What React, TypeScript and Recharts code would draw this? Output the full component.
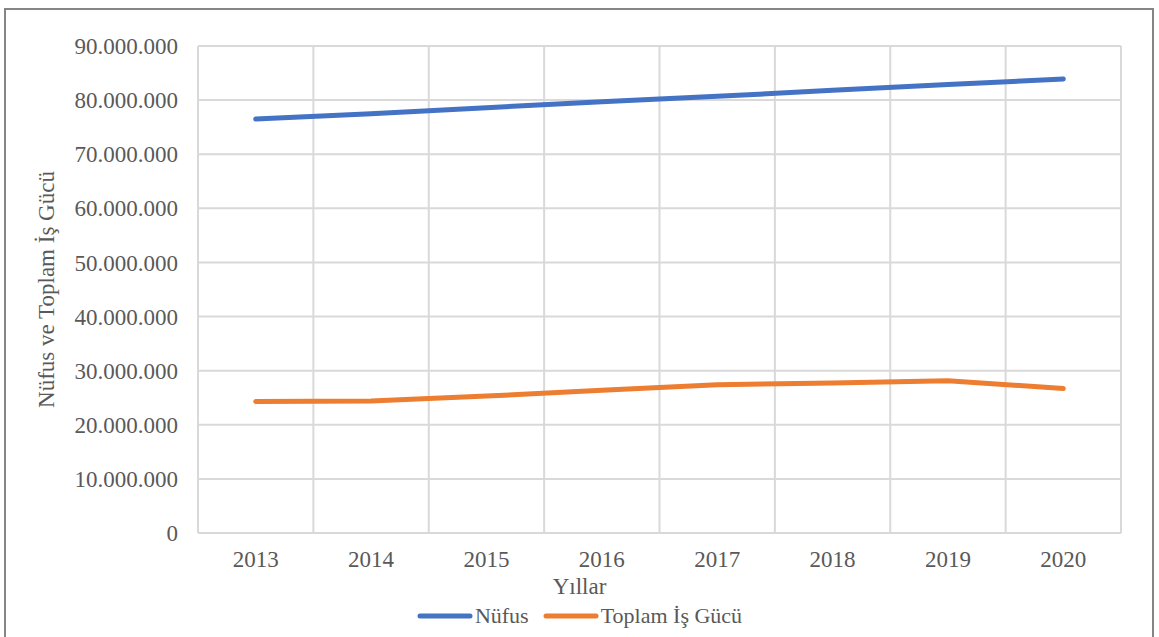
import { CartesianGrid, Label, Line, LineChart, XAxis, YAxis } from 'recharts'

const years = ['2013', '2014', '2015', '2016', '2017', '2018', '2019', '2020']
const nufus = [76500000, 77500000, 78600000, 79700000, 80700000, 81800000, 82900000, 83900000]
const isGucu = [24300000, 24400000, 25300000, 26400000, 27400000, 27700000, 28150000, 26700000]
const yTicks = [0, 10000000, 20000000, 30000000, 40000000, 50000000, 60000000, 70000000, 80000000, 90000000]

const data = years.map((year, i) => ({ year, nufus: nufus[i], isGucu: isGucu[i] }))

const FONT = '"Liberation Serif", "DejaVu Serif", serif'
const TEXT = '#595959'
const GRID = '#d9d9d9'
const BLUE = '#4472C4'
const ORANGE = '#ED7D31'

const fmt = (v: number) => String(v).replace(/\B(?=(\d{3})+(?!\d))/g, '.')

const legendItems = [
  { name: 'Nüfus', color: BLUE },
  { name: 'Toplam İş Gücü', color: ORANGE },
]

function BottomLegend() {
  return (
    <div
      style={{
        position: 'absolute',
        left: 0,
        top: 572,
        width: 1159,
        fontFamily: FONT,
        color: TEXT,
        textAlign: 'center',
      }}
    >
      <div style={{ fontSize: 23, lineHeight: '30px' }}>Yıllar</div>
      <div style={{ display: 'flex', justifyContent: 'center', gap: 14, fontSize: 22, lineHeight: '28px' }}>
        {legendItems.map((it) => (
          <div key={it.name} style={{ display: 'flex', alignItems: 'center' }}>
            <svg width={56} height={10}>
              <line x1={3} y1={5} x2={53} y2={5} stroke={it.color} strokeWidth={5} strokeLinecap="round" />
            </svg>
            <span style={{ marginLeft: 2 }}>{it.name}</span>
          </div>
        ))}
      </div>
    </div>
  )
}

export default function App() {
  return (
    <div style={{ position: 'absolute', left: 0, top: 0, width: 1159, height: 637, background: '#fff', overflow: 'hidden' }}>
      <div
        style={{
          position: 'absolute',
          left: 4,
          top: 8,
          width: 1146,
          height: 640,
          border: '2px solid #858585',
        }}
      />
      <LineChart
        width={1159}
        height={637}
        data={data}
        margin={{ top: 46, right: 38, bottom: 60, left: 0 }}
        style={{ position: 'absolute', left: 0, top: 0 }}
      >
        <CartesianGrid
          stroke={GRID}
          strokeWidth={2}
          verticalCoordinatesGenerator={({ offset }: any) =>
            Array.from({ length: years.length + 1 }, (_, i) => offset.left + (i * offset.width) / years.length)
          }
        />
        <XAxis
          dataKey="year"
          scale="band"
          height={44}
          axisLine={{ stroke: GRID, strokeWidth: 2 }}
          tickLine={false}
          tickMargin={12}
          tick={{ fontSize: 23, fill: TEXT, fontFamily: FONT }}
          interval={0}
        />
        <YAxis
          width={198}
          domain={[0, 90000000]}
          ticks={yTicks}
          axisLine={false}
          tickLine={false}
          tickSize={0}
          tickMargin={20}
          tickFormatter={fmt}
          tick={{ fontSize: 23, fill: TEXT, fontFamily: FONT }}
        >
          <Label
            value="Nüfus ve Toplam İş Gücü"
            angle={-90}
            position="insideLeft"
            offset={46}
            style={{ textAnchor: 'middle', fontSize: 23, fill: TEXT, fontFamily: FONT }}
          />
        </YAxis>
        <Line
          dataKey="nufus"
          name="Nüfus"
          stroke={BLUE}
          strokeWidth={5}
          strokeLinecap="round"
          dot={false}
          isAnimationActive={false}
        />
        <Line
          dataKey="isGucu"
          name="Toplam İş Gücü"
          stroke={ORANGE}
          strokeWidth={5}
          strokeLinecap="round"
          dot={false}
          isAnimationActive={false}
        />
      </LineChart>
      <BottomLegend />
    </div>
  )
}
